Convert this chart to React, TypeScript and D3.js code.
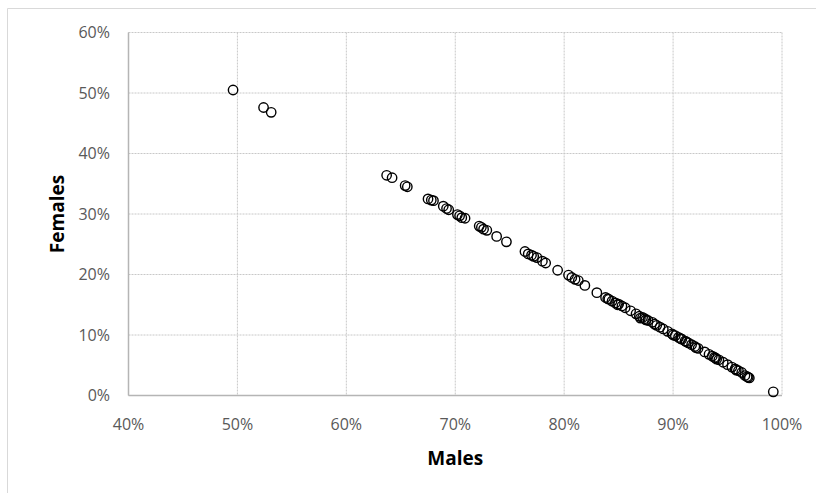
import React from "react";
import * as d3 from "d3";

const males: number[] = [
  49.6, 52.4, 53.1,
  63.7, 64.2, 65.4, 65.6, 67.5, 67.8, 68.0, 68.9, 69.2, 69.4, 70.2, 70.4, 70.6, 70.9,
  72.2, 72.4, 72.6, 72.9, 73.8, 74.7, 76.4, 76.7, 77.0, 77.2, 77.5, 78.0, 78.3, 79.4,
  80.4, 80.7, 81.0, 81.3, 81.9, 83.0, 83.8, 84.1, 84.4, 84.7, 85.0, 85.3, 85.6, 86.1,
  86.6, 86.9, 87.2, 87.4, 87.7, 88.1, 88.5, 88.8, 89.1, 89.5, 89.9, 90.2, 90.5, 90.8,
  91.1, 91.4, 91.7, 92.0, 92.3, 92.9, 93.3, 93.6, 93.9, 94.2, 94.6, 95.0, 95.4, 95.7,
  96.0, 96.3, 96.6, 96.9, 97.0, 99.2,
  84.0, 84.9, 87.0, 87.5, 88.3, 90.0, 90.7, 91.2, 92.1, 93.8, 94.0, 95.8, 96.8,
];
const females: number[] = [
  50.5, 47.6, 46.8,
  36.4, 36.0, 34.7, 34.5, 32.5, 32.3, 32.2, 31.3, 30.9, 30.7, 29.9, 29.7, 29.4, 29.3,
  28.0, 27.8, 27.5, 27.3, 26.3, 25.4, 23.8, 23.4, 23.2, 23.0, 22.8, 22.2, 21.9, 20.7,
  19.9, 19.5, 19.2, 19.0, 18.2, 17.0, 16.2, 15.9, 15.6, 15.3, 15.1, 14.8, 14.5, 14.0,
  13.5, 13.1, 12.9, 12.7, 12.4, 12.1, 11.6, 11.3, 11.0, 10.6, 10.2, 9.9, 9.6, 9.3,
  9.0, 8.7, 8.4, 8.1, 7.8, 7.2, 6.8, 6.5, 6.2, 5.9, 5.5, 5.1, 4.7, 4.4,
  4.1, 3.8, 3.3, 3.0, 2.9, 0.6,
  16.0, 15.0, 12.8, 12.5, 11.8, 10.0, 9.4, 8.9, 7.9, 6.3, 6.0, 4.2, 3.1,
];
const xTicks: number[] = [40, 50, 60, 70, 80, 90, 100];
const yTicks: number[] = [0, 10, 20, 30, 40, 50, 60];
const xTitle = "Males";
const yTitle = "Females";

export default function App() {
  const W = 816;
  const H = 493;
  const left = 128.5;
  const right = 782;
  const top = 32.5;
  const bottom = 395.5;
  const x = d3.scaleLinear().domain([40, 100]).range([left, right]);
  const y = d3.scaleLinear().domain([0, 60]).range([bottom, top]);
  const fmt = (v: number) => `${v}%`;
  const tickFont = "'Open Sans', sans-serif";

  return (
    <svg
      width={W}
      height={H}
      style={{ position: "absolute", left: 0, top: 0, background: "#fff" }}
    >
      <rect x={0} y={0} width={W} height={H} fill="#fff" />
      <line x1={7.5} y1={8.5} x2={W} y2={8.5} stroke="#d9d9d9" strokeWidth={1} />
      <line x1={7.5} y1={8.5} x2={7.5} y2={H} stroke="#d9d9d9" strokeWidth={1} />

      {xTicks.map((t) => (
        <line
          key={"gx" + t}
          x1={x(t)}
          x2={x(t)}
          y1={top}
          y2={bottom}
          stroke="#c8c8c8"
          strokeWidth={1}
          strokeDasharray="2,1"
        />
      ))}
      {yTicks.map((t) => (
        <line
          key={"gy" + t}
          x1={left}
          x2={right}
          y1={y(t)}
          y2={y(t)}
          stroke="#c8c8c8"
          strokeWidth={1}
          strokeDasharray="2,1"
        />
      ))}
      <line x1={left} x2={right} y1={bottom} y2={bottom} stroke="#b5b5b5" strokeWidth={1.5} />
      <line x1={left} x2={left} y1={top} y2={bottom} stroke="#b5b5b5" strokeWidth={1.5} />

      {xTicks.map((t) => (
        <text
          key={"tx" + t}
          x={x(t)}
          y={430}
          textAnchor="middle"
          fontFamily={tickFont}
          fontSize={16}
          fill="#595959"
        >
          {fmt(t)}
        </text>
      ))}
      {yTicks.map((t) => (
        <text
          key={"ty" + t}
          x={110}
          y={y(t)}
          dy="0.36em"
          textAnchor="end"
          fontFamily={tickFont}
          fontSize={16}
          fill="#595959"
        >
          {fmt(t)}
        </text>
      ))}

      <text
        x={(left + right) / 2}
        y={465}
        textAnchor="middle"
        fontFamily={tickFont}
        fontWeight="bold"
        fontSize={19}
        fill="#000"
      >
        {xTitle}
      </text>
      <text
        transform={`translate(64, ${(top + bottom) / 2}) rotate(-90)`}
        textAnchor="middle"
        fontFamily={tickFont}
        fontWeight="bold"
        fontSize={19}
        fill="#000"
      >
        {yTitle}
      </text>

      {males.map((m, i) => (
        <circle
          key={"p" + i}
          cx={x(m)}
          cy={y(females[i])}
          r={4.7}
          fill="none"
          stroke="#000"
          strokeWidth={1.4}
        />
      ))}
    </svg>
  );
}
